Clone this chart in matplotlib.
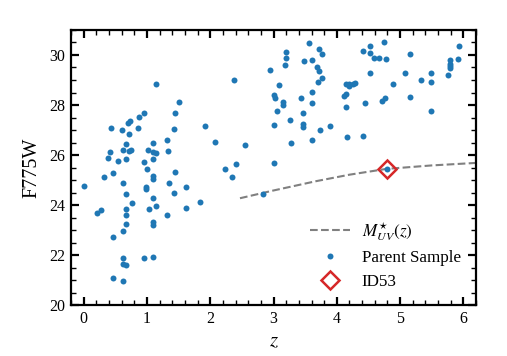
import matplotlib
matplotlib.use("Agg")
import matplotlib.pyplot as plt
from matplotlib.ticker import MultipleLocator

plt.rcParams['font.family'] = ['Liberation Serif', 'DejaVu Serif']
plt.rcParams['mathtext.fontset'] = 'stix'

# Parent sample: redshift and F775W magnitude
parent_z = [
    1.14, 1.51, 1.45, 0.96, 0.88, 0.74, 0.70, 0.43, 0.60, 0.86,
    1.42, 0.72, 1.32, 0.67, 1.10, 0.42, 0.62, 0.71, 0.75, 1.02,
    1.10, 1.15, 1.33, 0.38, 0.54, 0.67, 0.96, 1.10, 1.00, 0.32,
    0.47, 1.10, 1.10, 1.44, 0.01, 0.62, 0.98, 0.98, 1.35, 1.61,
    0.67, 1.10, 1.42, 0.77, 0.21, 0.27, 0.67, 1.04, 1.14, 1.62,
    1.84, 0.67, 1.32, 0.67, 1.10, 1.10, 0.62, 0.46, 0.62, 0.62,
    0.67, 0.95, 1.10, 0.46, 0.62, 2.38, 1.91, 2.07, 2.23, 2.35,
    2.40, 2.55, 2.84, 3.00, 2.95, 3.56, 3.72, 3.77, 3.20, 3.20,
    3.18, 3.48, 3.61, 3.69, 3.72, 3.77, 3.71, 3.09, 3.00, 3.03,
    3.15, 3.15, 3.05, 3.44, 3.61, 3.61, 3.47, 3.26, 3.00, 3.46,
    3.47, 3.73, 3.89, 3.28, 3.61, 4.14, 4.19, 4.20, 4.25, 4.29,
    4.12, 4.15, 4.14, 4.16, 4.42, 4.45, 4.41, 4.53, 4.53, 4.59,
    4.66, 4.53, 4.78, 4.75, 5.15, 4.88, 5.07, 4.76, 4.72, 5.15,
    5.33, 5.48, 5.49, 5.48, 5.75, 5.79, 5.79, 5.79, 5.79, 5.91,
    5.93, 4.79,
]
parent_mag = [
    28.83, 28.13, 27.67, 27.67, 27.51, 27.35, 27.28, 27.07, 27.00, 27.07,
    27.06, 26.84, 26.62, 26.45, 26.47, 26.14, 26.20, 26.17, 26.20, 26.22,
    26.12, 26.09, 26.16, 25.89, 25.75, 25.86, 25.71, 25.83, 25.46, 25.14,
    25.29, 25.17, 25.06, 25.31, 24.75, 24.87, 24.74, 24.66, 24.87, 24.71,
    24.45, 24.30, 24.49, 24.10, 23.71, 23.82, 23.86, 23.87, 23.99, 23.91,
    24.11, 23.60, 23.63, 23.27, 23.35, 23.20, 22.99, 22.75, 21.89, 21.67,
    21.63, 21.89, 21.93, 21.10, 20.97, 29.02, 27.15, 26.53, 25.43, 25.11,
    25.63, 26.42, 24.46, 25.67, 29.38, 30.49, 30.25, 30.05, 30.12, 29.86,
    29.60, 29.75, 29.81, 29.53, 29.36, 29.07, 28.93, 28.81, 28.39, 28.27,
    28.12, 27.99, 27.76, 28.28, 28.51, 28.09, 27.69, 27.39, 27.22, 27.26,
    27.14, 26.99, 27.18, 26.50, 26.62, 28.86, 28.76, 28.84, 28.86, 28.90,
    28.37, 28.45, 27.91, 26.73, 26.75, 28.09, 30.15, 30.35, 30.08, 29.86,
    29.89, 29.29, 29.85, 30.52, 30.03, 28.85, 29.29, 28.29, 28.16, 28.32,
    29.02, 29.29, 28.94, 27.77, 29.19, 29.81, 29.64, 29.55, 29.46, 29.85,
    30.36, 25.46,
]

# Characteristic magnitude curve M*_UV(z), sampled from the figure
mstar_z = [2.47, 3.00, 3.67, 4.20, 4.78, 5.50, 6.20]
mstar_mag = [24.28, 24.59, 24.96, 25.22, 25.45, 25.59, 25.69]

# Highlighted object
id53_z = [4.79]
id53_mag = [25.46]

fig = plt.figure(figsize=(5.07, 3.56), dpi=100)
ax = fig.add_axes([0.140, 0.142, 0.799, 0.774])

ax.plot(mstar_z, mstar_mag, ls=(0, (3.7, 1.6)), color='#808080', lw=1.5,
        label=r'$M^{\star}_{UV}(z)$', zorder=2)
ax.plot(parent_z, parent_mag, 'o', ls='none', color='#1f77b4', ms=4.3,
        mew=0, label='Parent Sample', zorder=3)
ax.plot(id53_z, id53_mag, 'D', ls='none', mfc='none', mec='#d62728', mew=1.8,
        ms=9, label='ID53', zorder=2.5)

ax.set_xlim(-0.2, 6.2)
ax.set_ylim(20, 31)
ax.xaxis.set_major_locator(MultipleLocator(1))
ax.xaxis.set_minor_locator(MultipleLocator(0.2))
ax.yaxis.set_major_locator(MultipleLocator(2))
ax.yaxis.set_minor_locator(MultipleLocator(0.5))

ax.tick_params(which='both', direction='in', top=True, right=True, labelsize=11.5)
ax.tick_params(which='major', length=6, width=1.6, pad=4)
ax.tick_params(which='minor', length=3.5, width=1.0)
for s in ax.spines.values():
    s.set_linewidth(1.6)

ax.set_xlabel(r'$z$', fontsize=15, labelpad=4)
ax.set_ylabel('F775W', fontsize=14.5, labelpad=6)

leg = ax.legend(loc='lower right', frameon=False, fontsize=12.3,
                handlelength=2.3, handletextpad=0.7, labelspacing=0.45,
                borderaxespad=0.5)

fig.savefig('out.png', dpi=100)
